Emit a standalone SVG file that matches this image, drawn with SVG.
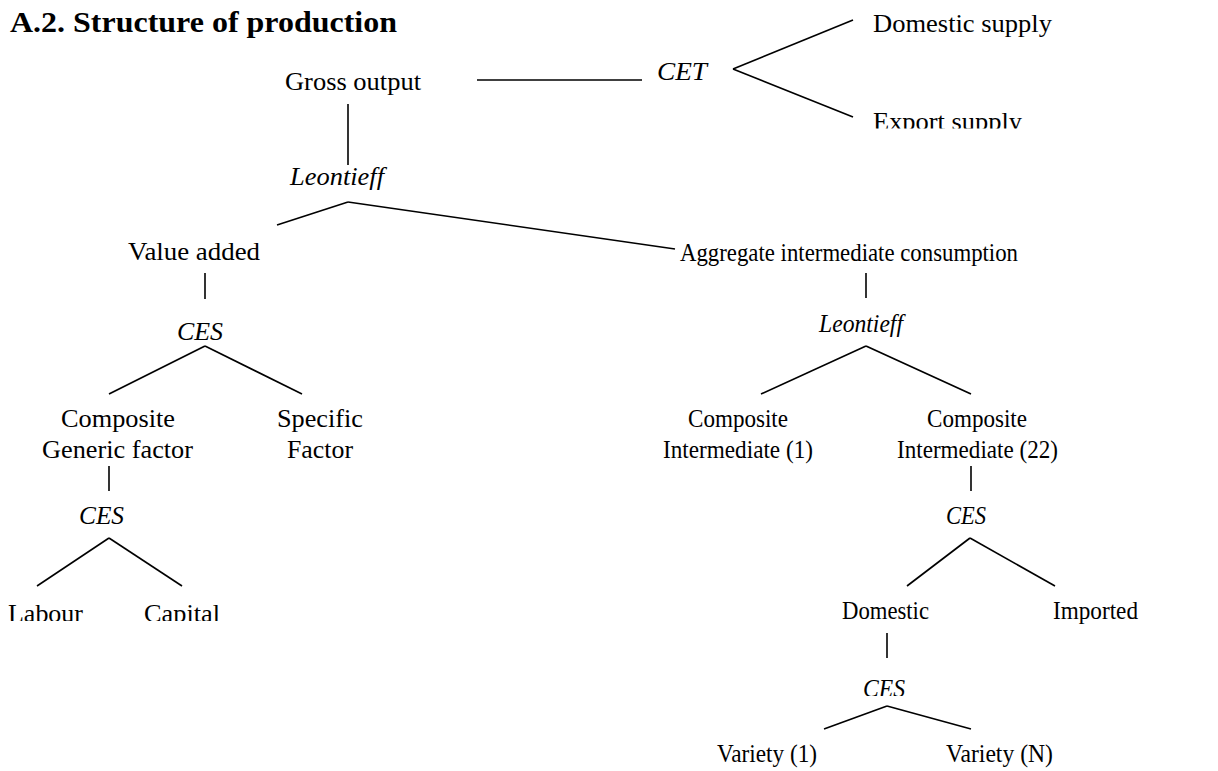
<svg xmlns="http://www.w3.org/2000/svg" width="1218" height="771" viewBox="0 0 1218 771">
<style>
text{font-family:"Liberation Serif","Times New Roman",serif;font-size:26px;fill:#000}
.it{font-style:italic}
.title{font-weight:bold;font-size:29px}
.c line{stroke:#000;stroke-width:1.6;fill:none}
</style>
<defs>
<clipPath id="clipExport"><rect x="860" y="90" width="220" height="38.5"/></clipPath>
<clipPath id="clipLC"><rect x="0" y="590" width="240" height="31"/></clipPath>
<clipPath id="clipCES3"><rect x="850" y="670" width="70" height="26"/></clipPath>
</defs>
<rect width="1218" height="771" fill="#fff"/>
<text class="title" x="10" y="32" textLength="387" lengthAdjust="spacingAndGlyphs">A.2. Structure of production</text>
<g class="c" id="connectors">
<line x1="348" y1="104" x2="348" y2="165"/>
<line x1="477" y1="80" x2="642" y2="80"/>
<line x1="733" y1="69" x2="853" y2="20"/>
<line x1="733" y1="69" x2="853" y2="117"/>
<line x1="348" y1="202" x2="277" y2="225"/>
<line x1="348" y1="202" x2="675" y2="249"/>
<line x1="205" y1="273" x2="205" y2="299"/>
<line x1="205" y1="346" x2="109" y2="394"/>
<line x1="205" y1="346" x2="302" y2="394"/>
<line x1="109" y1="466" x2="109" y2="491"/>
<line x1="109" y1="538" x2="37" y2="586"/>
<line x1="109" y1="538" x2="182" y2="586"/>
<line x1="866" y1="273" x2="866" y2="298"/>
<line x1="866" y1="346" x2="761" y2="394"/>
<line x1="866" y1="346" x2="971" y2="394"/>
<line x1="971" y1="466" x2="971" y2="491"/>
<line x1="970" y1="538" x2="907" y2="586"/>
<line x1="970" y1="538" x2="1055" y2="586"/>
<line x1="887" y1="633" x2="887" y2="658"/>
<line x1="887" y1="706" x2="824" y2="729"/>
<line x1="887" y1="706" x2="971" y2="729"/>
</g>
<g id="gross-output"><text x="285" y="90" textLength="136" lengthAdjust="spacingAndGlyphs">Gross output</text></g>
<g id="cet"><text class="it" x="657" y="80" textLength="50" lengthAdjust="spacingAndGlyphs">CET</text></g>
<g id="domestic-supply"><text x="873" y="32" textLength="179" lengthAdjust="spacingAndGlyphs">Domestic supply</text></g>
<g id="export-supply" clip-path="url(#clipExport)"><text x="873" y="130" textLength="149" lengthAdjust="spacingAndGlyphs">Export supply</text></g>
<g id="leontieff-1"><text class="it" x="290" y="185" textLength="94" lengthAdjust="spacingAndGlyphs">Leontieff</text></g>
<g id="value-added"><text x="128" y="260" textLength="132" lengthAdjust="spacingAndGlyphs">Value added</text></g>
<g id="aggregate-ic"><text x="680" y="261" textLength="338" lengthAdjust="spacingAndGlyphs">Aggregate intermediate consumption</text></g>
<g id="ces-va"><text class="it" x="177" y="340" textLength="46" lengthAdjust="spacingAndGlyphs">CES</text></g>
<g id="composite-generic"><text x="61" y="427" textLength="114" lengthAdjust="spacingAndGlyphs">Composite</text><text x="42" y="458" textLength="151" lengthAdjust="spacingAndGlyphs">Generic factor</text></g>
<g id="specific-factor"><text x="277" y="427" textLength="86" lengthAdjust="spacingAndGlyphs">Specific</text><text x="287" y="458" textLength="66" lengthAdjust="spacingAndGlyphs">Factor</text></g>
<g id="ces-gf"><text class="it" x="79" y="524" textLength="45" lengthAdjust="spacingAndGlyphs">CES</text></g>
<g id="labour-capital" clip-path="url(#clipLC)"><text x="8" y="622" textLength="75" lengthAdjust="spacingAndGlyphs">Labour</text><text x="144" y="622" textLength="76" lengthAdjust="spacingAndGlyphs">Capital</text></g>
<g id="leontieff-2"><text class="it" x="819" y="332" textLength="84" lengthAdjust="spacingAndGlyphs">Leontieff</text></g>
<g id="composite-int-1"><text x="688" y="427" textLength="100" lengthAdjust="spacingAndGlyphs">Composite</text><text x="663" y="458" textLength="150" lengthAdjust="spacingAndGlyphs">Intermediate (1)</text></g>
<g id="composite-int-22"><text x="927" y="427" textLength="100" lengthAdjust="spacingAndGlyphs">Composite</text><text x="897" y="458" textLength="161" lengthAdjust="spacingAndGlyphs">Intermediate (22)</text></g>
<g id="ces-int"><text class="it" x="946" y="524" textLength="40" lengthAdjust="spacingAndGlyphs">CES</text></g>
<g id="domestic"><text x="842" y="619" textLength="87" lengthAdjust="spacingAndGlyphs">Domestic</text></g>
<g id="imported"><text x="1053" y="619" textLength="85" lengthAdjust="spacingAndGlyphs">Imported</text></g>
<g id="ces-dom" clip-path="url(#clipCES3)"><text class="it" x="863" y="697" textLength="42" lengthAdjust="spacingAndGlyphs">CES</text></g>
<g id="variety-1"><text x="717" y="762" textLength="100" lengthAdjust="spacingAndGlyphs">Variety (1)</text></g>
<g id="variety-n"><text x="946" y="762" textLength="107" lengthAdjust="spacingAndGlyphs">Variety (N)</text></g>
</svg>
